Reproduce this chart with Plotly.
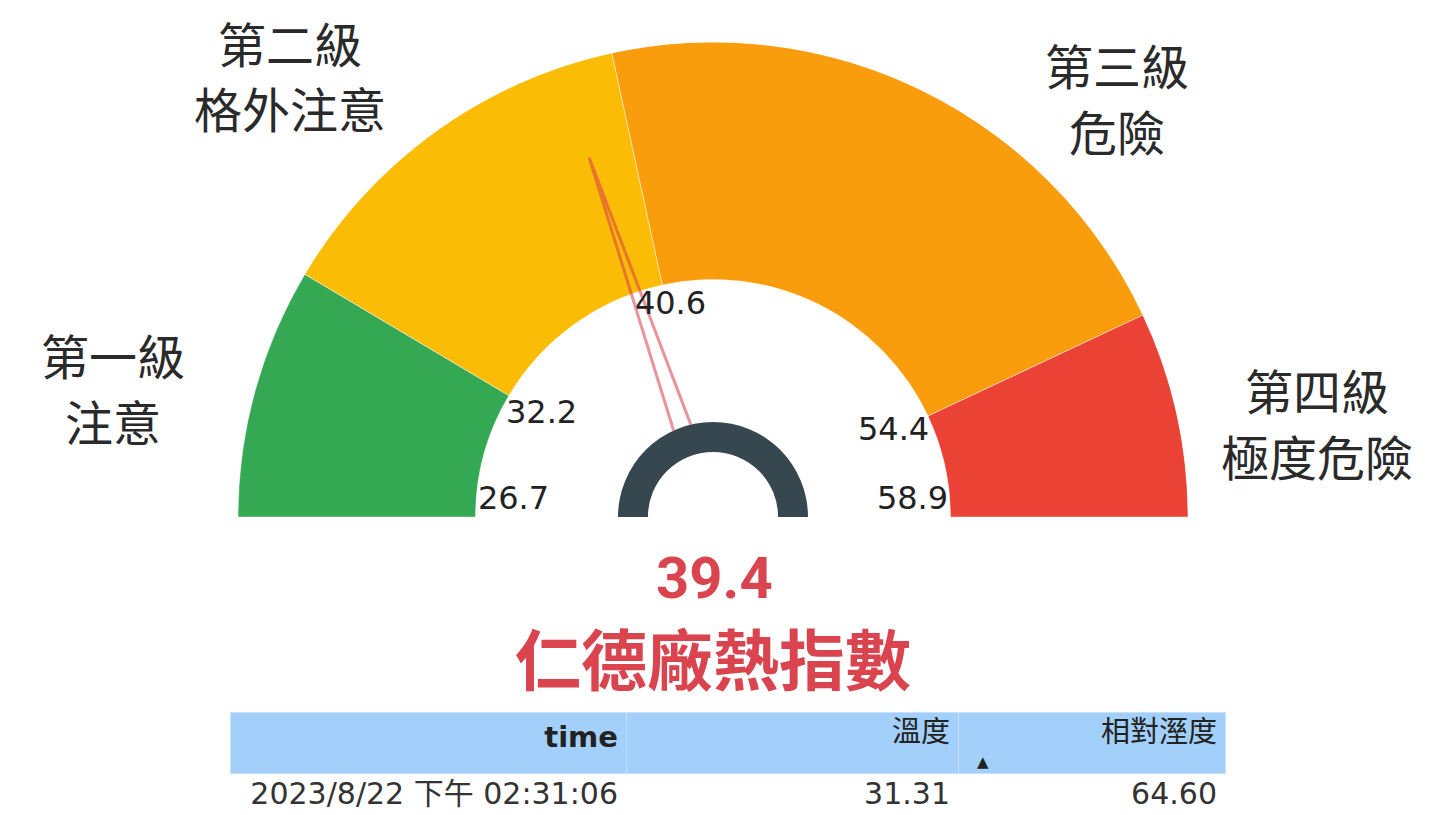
import plotly.graph_objects as go

# ---- data ----
thresholds = [26.7, 32.2, 40.6, 54.4, 58.9]
level_names = ["第一級", "第二級", "第三級", "第四級"]
level_descs = ["注意", "格外注意", "危險", "極度危險"]
level_colors = ["#34a853", "#fbbc05", "#fa9d0c", "#ea4335"]
value = 39.4
title_text = "仁德廠熱指數"
table_header = ["time", "溫度", "相對溼度"]
table_time = ["2023/8/22 下午 02:31:06"]
table_temp = ["31.31"]
table_rh = ["64.60"]

# page has an 8px body margin; figure sized to fit the window
OFF = 8
W, H = 1452 - OFF, 815 - OFF


def pxx(x):
    return (x - OFF) / W


def pxy(y):
    return (H - (y - OFF)) / H


vmin, vmax = thresholds[0], thresholds[-1]


def ang(v):
    return 180.0 - (v - vmin) / (vmax - vmin) * 180.0


fig = go.Figure()

# gauge segments
mids, widths = [], []
for a, b in zip(thresholds[:-1], thresholds[1:]):
    mids.append((ang(a) + ang(b)) / 2)
    widths.append(ang(a) - ang(b))
fig.add_trace(go.Barpolar(
    theta=mids, width=widths, r=[0.5] * len(mids), base=[0.5] * len(mids),
    marker=dict(color=level_colors, line=dict(color="rgba(255,255,255,0.45)", width=1)),
    hoverinfo="skip", showlegend=False,
))

# small dark hub arc
fig.add_trace(go.Barpolar(
    theta=[90], width=[180], r=[0.063], base=[0.137],
    marker=dict(color="#37474f", line=dict(width=0)),
    hoverinfo="skip", showlegend=False,
))

# needle
t = ang(value)
fig.add_trace(go.Scatterpolar(
    r=[0.2, 0.8, 0.2], theta=[t + 5.5, t, t - 5.5], mode="lines",
    line=dict(color="rgba(215,60,75,0.55)", width=3),
    hoverinfo="skip", showlegend=False,
))

# tick labels
fig.add_trace(go.Scatterpolar(
    r=[0.42] * len(thresholds), theta=[ang(v) for v in thresholds],
    mode="text", text=[f"{v:.1f}" for v in thresholds],
    textposition=["top center", "middle center", "top center", "middle center", "top center"],
    textfont=dict(family="DejaVu Sans", size=32, color="#222222"),
    cliponaxis=False, hoverinfo="skip", showlegend=False,
))

cx0, cx1 = 238, 1188
top, bottom = 42, 517
fig.update_layout(
    width=W, height=H,
    margin=dict(l=0, r=0, t=0, b=0),
    paper_bgcolor="white", plot_bgcolor="white",
    polar=dict(
        domain=dict(x=[pxx(cx0), pxx(cx1)], y=[pxy(bottom), pxy(top)]),
        sector=[0, 180],
        bgcolor="white",
        radialaxis=dict(range=[0, 1], visible=False, showgrid=False),
        angularaxis=dict(visible=False, direction="counterclockwise", rotation=0,
                         showgrid=False),
    ),
)

# level labels (two lines each)
label_x = [113, 290, 1117, 1317]
label_y1 = [354, 42, 64, 389]
label_y2 = [420, 107, 130, 455]
for name, desc, lx, y1, y2 in zip(level_names, level_descs, label_x, label_y1, label_y2):
    for txt, ly in ((name, y1), (desc, y2)):
        fig.add_annotation(
            x=pxx(lx), y=pxy(ly), xref="paper", yref="paper",
            text=txt, showarrow=False, align="center",
            font=dict(family="Noto Sans CJK TC", size=48, color="#2a2a2a"),
            xanchor="center", yanchor="middle",
        )

# value and title
fig.add_annotation(
    x=pxx(714), y=pxy(578), xref="paper", yref="paper",
    text=f"<b>{value}</b>", showarrow=False,
    font=dict(family="Roboto", size=58, color="#d9444f"),
    xanchor="center", yanchor="middle",
)
fig.add_annotation(
    x=pxx(713), y=pxy(656), xref="paper", yref="paper",
    text=f"<b>{title_text}</b>", showarrow=False,
    font=dict(family="Noto Sans CJK TC", size=66, color="#d9444f"),
    xanchor="center", yanchor="middle",
)

# table
fig.add_trace(go.Table(
    domain=dict(x=[pxx(230), pxx(1225)], y=[0, pxy(712)]),
    columnwidth=[396, 332, 267],
    header=dict(
        values=["<b>" + table_header[0] + "</b>", table_header[1], table_header[2]],
        fill_color="#a3d0fb", align="right", height=61,
        line=dict(color="#c4e2fd", width=1),
        font=dict(family="DejaVu Sans, Noto Sans CJK TC", size=29, color="#222222"),
    ),
    cells=dict(
        values=[table_time, table_temp, table_rh],
        fill_color="white", align="right", height=40,
        line=dict(color="white", width=1),
        font=dict(family="DejaVu Sans, Noto Sans CJK TC", size=30, color="#333333"),
    ),
))

# sort arrow
fig.add_annotation(
    x=pxx(983), y=pxy(762), xref="paper", yref="paper",
    text="▲", showarrow=False,
    font=dict(family="DejaVu Sans", size=15, color="#222222"),
    xanchor="center", yanchor="middle",
)

fig.write_html("out.html", config=dict(displayModeBar=False))
